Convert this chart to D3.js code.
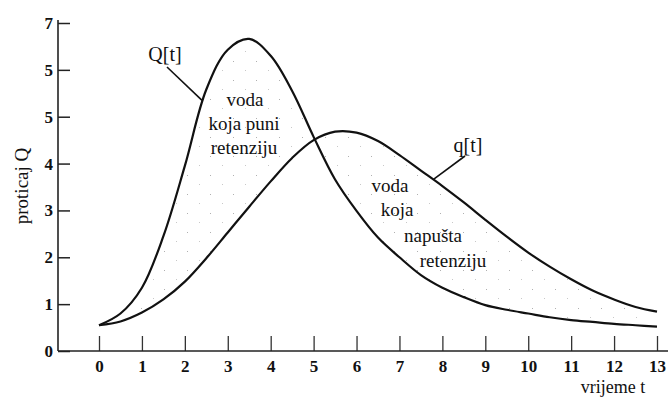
<!DOCTYPE html>
<html>
<head>
<meta charset="utf-8">
<script src="https://cdn.jsdelivr.net/npm/d3@7"></script>
<style>
  body { margin: 0; background: #fff; }
  svg text { font-family: "Liberation Serif", "DejaVu Serif", serif; fill: #111; }
  .tick text { font-size: 17px; font-weight: bold; }
  .note { font-size: 19px; }
</style>
</head>
<body>
<div id="chart"></div>
<script>
// time grid and the two hydrographs
var tValues = [0, 0.5, 1, 1.5, 2, 2.5, 3, 3.5, 4, 4.5, 5, 5.5, 6, 6.5, 7, 7.5, 8, 8.5, 9, 9.5, 10, 10.5, 11, 11.5, 12, 12.5, 13];
var inflow  = [0.55, 0.8, 1.35, 2.45, 3.95, 5.58, 6.43, 6.66, 6.3, 5.55, 4.57, 3.66, 2.99, 2.42, 2.0, 1.62, 1.35, 1.15, 0.98, 0.88, 0.8, 0.72, 0.66, 0.62, 0.58, 0.55, 0.52];
var outflow = [0.55, 0.63, 0.82, 1.1, 1.48, 1.98, 2.53, 3.08, 3.62, 4.12, 4.5, 4.68, 4.66, 4.48, 4.18, 3.85, 3.52, 3.17, 2.8, 2.44, 2.1, 1.8, 1.53, 1.29, 1.1, 0.94, 0.84];

var xTicks = d3.range(0, 14);
var yTicks = [0, 1, 2, 3, 4, 5, 6, 7];
var yTickLabels = ["0", "1", "2", "3", "4", "5", "5", "7"];

var width = 668, height = 398;

var x = d3.scaleLinear().domain([0, 13]).range([99, 657]);
var y = d3.scaleLinear().domain([0, 7]).range([351, 23]);

var svg = d3.select("#chart").append("svg")
    .attr("width", width)
    .attr("height", height);

// sparse stipple between the curves
var pat = svg.append("defs").append("pattern")
    .attr("id", "stipple")
    .attr("patternUnits", "userSpaceOnUse")
    .attr("width", 23)
    .attr("height", 19);
pat.append("rect").attr("x", 3).attr("y", 4).attr("width", 1).attr("height", 1).attr("fill", "#b0b0b0");
pat.append("rect").attr("x", 15).attr("y", 13).attr("width", 1).attr("height", 1).attr("fill", "#c8c8c8");

var data = tValues.map(function (t, i) { return { t: t, Q: inflow[i], q: outflow[i] }; });

var curve = d3.curveCatmullRom.alpha(0.5);

var area = d3.area()
    .x(function (d) { return x(d.t); })
    .y0(function (d) { return y(d.q); })
    .y1(function (d) { return y(d.Q); })
    .curve(curve);

svg.append("path")
    .datum(data)
    .attr("d", area)
    .attr("fill", "url(#stipple)");

// axes
var xAxis = d3.axisBottom(x)
    .tickValues(xTicks)
    .tickSizeInner(-15)
    .tickSizeOuter(0)
    .tickPadding(9)
    .tickFormat(d3.format("d"));

var yAxis = d3.axisLeft(y)
    .tickValues(yTicks)
    .tickSizeInner(-12)
    .tickSizeOuter(0)
    .tickPadding(5)
    .tickFormat(function (d, i) { return yTickLabels[i]; });

var gx = svg.append("g")
    .attr("transform", "translate(0," + y(0) + ")")
    .call(xAxis);
gx.attr("font-family", null).attr("font-size", null);
gx.select(".domain").remove();
gx.selectAll(".tick line").attr("stroke", "#333").attr("stroke-width", 1.3);

var gy = svg.append("g")
    .attr("transform", "translate(58,0)")
    .call(yAxis);
gy.attr("font-family", null).attr("font-size", null);
gy.select(".domain").remove();
gy.selectAll(".tick line").attr("stroke", "#222").attr("stroke-width", 1.5);

svg.append("line")
    .attr("x1", 58).attr("x2", 668)
    .attr("y1", y(0)).attr("y2", y(0))
    .attr("stroke", "#222").attr("stroke-width", 1.6);

svg.append("line")
    .attr("x1", 58).attr("x2", 58)
    .attr("y1", 20).attr("y2", y(0))
    .attr("stroke", "#222").attr("stroke-width", 1.6);

// the two curves
var lineQ = d3.line()
    .x(function (d) { return x(d.t); })
    .y(function (d) { return y(d.Q); })
    .curve(curve);

var lineq = d3.line()
    .x(function (d) { return x(d.t); })
    .y(function (d) { return y(d.q); })
    .curve(curve);

svg.append("path")
    .datum(data)
    .attr("d", lineQ)
    .attr("fill", "none")
    .attr("stroke", "#111")
    .attr("stroke-width", 2.2);

svg.append("path")
    .datum(data)
    .attr("d", lineq)
    .attr("fill", "none")
    .attr("stroke", "#111")
    .attr("stroke-width", 2.2);

// axis titles
svg.append("text")
    .attr("class", "note")
    .attr("transform", "translate(28,186) rotate(-90)")
    .attr("text-anchor", "middle")
    .text("proticaj Q");

svg.append("text")
    .attr("class", "note")
    .attr("x", 613)
    .attr("y", 393)
    .attr("text-anchor", "middle")
    .style("font-size", "18px")
    .text("vrijeme t");

// curve labels with leaders
svg.append("text").attr("class", "note")
    .attr("x", 165).attr("y", 61)
    .attr("text-anchor", "middle")
    .style("font-size", "20px")
    .text("Q[t]");
svg.append("line")
    .attr("x1", 167).attr("y1", 67)
    .attr("x2", x(2.4)).attr("y2", y(5.35))
    .attr("stroke", "#111").attr("stroke-width", 1.6);

svg.append("text").attr("class", "note")
    .attr("x", 468).attr("y", 152)
    .attr("text-anchor", "middle")
    .style("font-size", "20px")
    .text("q[t]");
svg.append("line")
    .attr("x1", 465).attr("y1", 156)
    .attr("x2", x(7.8)).attr("y2", y(3.67))
    .attr("stroke", "#111").attr("stroke-width", 1.6);

// region notes
var fillNote = [["voda", 245, 106], ["koja puni", 244, 130], ["retenziju", 244, 154]];
var leaveNote = [["voda", 390, 192], ["koja", 397, 216], ["napušta", 433, 242], ["retenziju", 453, 267]];

svg.selectAll(".fillnote")
    .data(fillNote)
    .enter().append("text")
    .attr("class", "note fillnote")
    .attr("text-anchor", "middle")
    .attr("x", function (d) { return d[1]; })
    .attr("y", function (d) { return d[2]; })
    .text(function (d) { return d[0]; });

svg.selectAll(".leavenote")
    .data(leaveNote)
    .enter().append("text")
    .attr("class", "note leavenote")
    .attr("text-anchor", "middle")
    .attr("x", function (d) { return d[1]; })
    .attr("y", function (d) { return d[2]; })
    .text(function (d) { return d[0]; });
</script>
</body>
</html>
